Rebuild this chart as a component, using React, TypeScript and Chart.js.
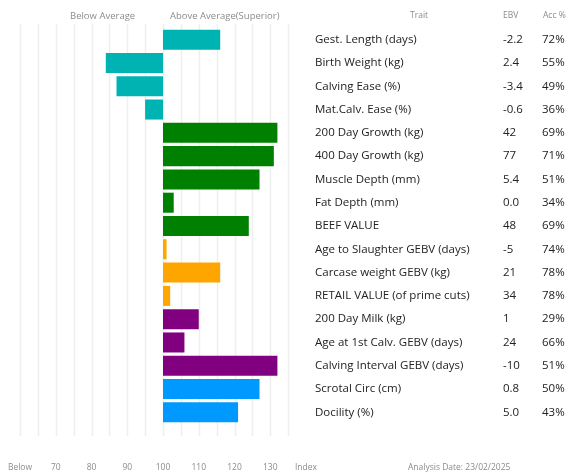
import { useEffect, useRef } from 'react';
import { Chart, registerables } from 'chart.js';

Chart.register(...registerables);

const traits = [
  'Gest. Length (days)',
  'Birth Weight (kg)',
  'Calving Ease (%)',
  'Mat.Calv. Ease (%)',
  '200 Day Growth (kg)',
  '400 Day Growth (kg)',
  'Muscle Depth (mm)',
  'Fat Depth (mm)',
  'BEEF VALUE',
  'Age to Slaughter GEBV (days)',
  'Carcase weight GEBV (kg)',
  'RETAIL VALUE (of prime cuts)',
  '200 Day Milk (kg)',
  'Age at 1st Calv. GEBV (days)',
  'Calving Interval GEBV (days)',
  'Scrotal Circ (cm)',
  'Docility (%)',
];
const ebv = ['-2.2', '2.4', '-3.4', '-0.6', '42', '77', '5.4', '0.0', '48', '-5', '21', '34', '1', '24', '-10', '0.8', '5.0'];
const acc = ['72%', '55%', '49%', '36%', '69%', '71%', '51%', '34%', '69%', '74%', '78%', '78%', '29%', '66%', '51%', '50%', '43%'];
const indexValues = [116, 84, 87, 95, 132, 131, 127, 103, 124, 101, 116, 102, 110, 106, 132, 127, 121];
const groupColors = ['#00b3b3', '#008000', '#ffa500', '#800080', '#0099ff'];
const barGroup = [0, 0, 0, 0, 1, 1, 1, 1, 1, 2, 2, 2, 3, 3, 3, 4, 4];
const axisTickValues = [60, 70, 80, 90, 100, 110, 120, 130, 140];
const axisTickLabels = ['Below', '70', '80', '90', '100', '110', '120', '130', 'Index'];
const gridValues = [60, 65, 70, 75, 80, 85, 90, 95, 100, 105, 110, 115, 120, 125, 130, 135];
const baseIndex = 100;

const FONT = '"Open Sans", "Noto Sans", sans-serif';

export default function App() {
  const ref = useRef<HTMLCanvasElement>(null);

  useEffect(() => {
    const overlay = {
      id: 'overlay',
      beforeDatasetsDraw(chart: any) {
        const ctx = chart.ctx as CanvasRenderingContext2D;
        const xs = chart.scales.x;
        ctx.save();
        ctx.strokeStyle = '#efefef';
        ctx.lineWidth = 1.5;
        gridValues.forEach((v) => {
          const px = Math.round(xs.getPixelForValue(v)) + 0.5;
          ctx.beginPath();
          ctx.moveTo(px, 24);
          ctx.lineTo(px, 436);
          ctx.stroke();
        });
        ctx.restore();
      },
      afterDraw(chart: any) {
        const ctx = chart.ctx as CanvasRenderingContext2D;
        const xs = chart.scales.x;
        const ys = chart.scales.y;
        ctx.save();
        ctx.textBaseline = 'middle';

        // top headers
        ctx.fillStyle = '#8c8c8c';
        ctx.font = `9.5px ${FONT}`;
        ctx.textAlign = 'left';
        ctx.fillText('Below Average', 70, 16);
        ctx.fillText('Above Average(Superior)', 170, 16);
        ctx.font = `8.5px ${FONT}`;
        ctx.fillText('Trait', 410, 16);
        ctx.fillText('EBV', 503, 16);
        ctx.fillText('Acc %', 543, 16);

        // rows
        ctx.fillStyle = '#222222';
        ctx.font = `11.5px ${FONT}`;
        traits.forEach((t, i) => {
          const yy = ys.getPixelForValue(i);
          ctx.fillText(t, 315, yy);
          ctx.fillText(ebv[i], 503, yy);
          ctx.fillText(acc[i], 542, yy);
        });

        // bottom labels
        ctx.fillStyle = '#8c8c8c';
        ctx.font = `8.5px ${FONT}`;
        ctx.textAlign = 'center';
        axisTickValues.forEach((v, i) => {
          ctx.fillText(axisTickLabels[i], xs.getPixelForValue(v), 468);
        });
        ctx.textAlign = 'left';
        ctx.fillText('Analysis Date: 23/02/2025', 408, 468);
        ctx.restore();
      },
    };

    const chart = new Chart(ref.current as HTMLCanvasElement, {
      type: 'bar',
      data: {
        labels: traits,
        datasets: [
          {
            data: indexValues,
            base: baseIndex,
            backgroundColor: barGroup.map((g) => groupColors[g]),
            barPercentage: 0.86,
            categoryPercentage: 1,
          } as any,
        ],
      },
      options: {
        indexAxis: 'y',
        animation: false,
        responsive: true,
        maintainAspectRatio: false,
        layout: { padding: { left: 20, right: 270, top: 28, bottom: 52 } },
        plugins: { legend: { display: false }, tooltip: { enabled: false } },
        scales: {
          x: {
            min: 60,
            max: 140,
            ticks: { stepSize: 5, display: false },
            grid: { display: false, drawTicks: false },
            border: { display: false },
          },
          y: { display: false },
        },
      },
      plugins: [overlay],
    });
    return () => chart.destroy();
  }, []);

  return (
    <div style={{ position: 'fixed', left: 0, top: 0, width: 576, height: 476, background: '#fff' }}>
      <canvas ref={ref} />
    </div>
  );
}
